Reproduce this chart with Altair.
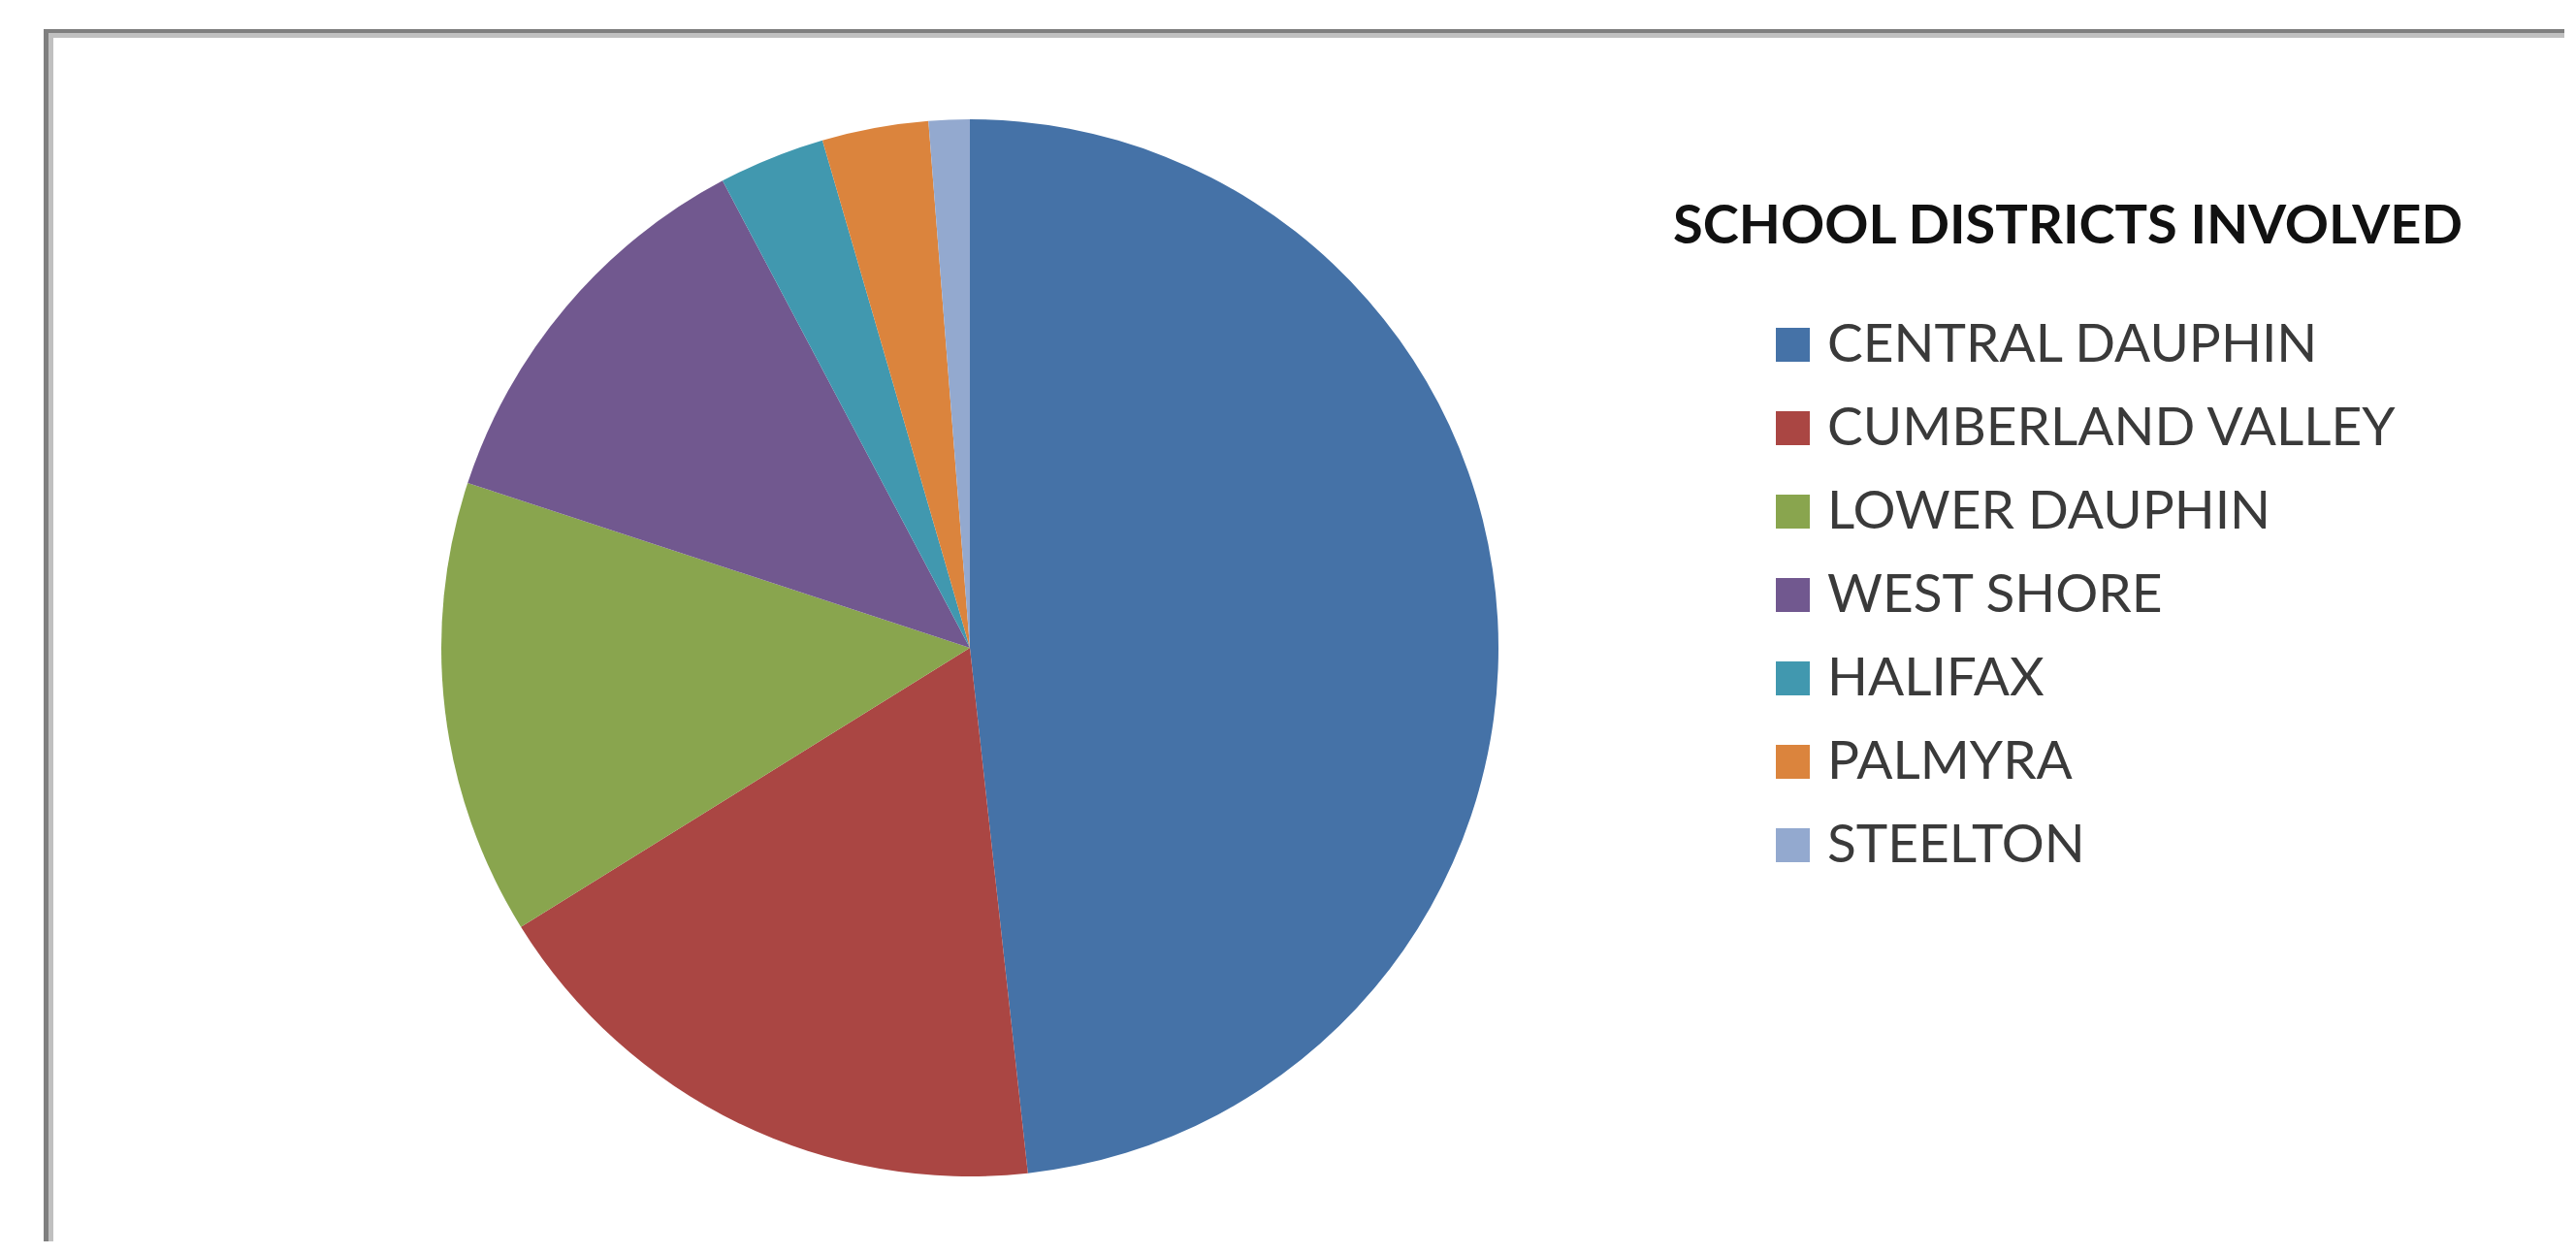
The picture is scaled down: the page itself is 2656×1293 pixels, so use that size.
import altair as alt
import pandas as pd

districts = ["CENTRAL DAUPHIN", "CUMBERLAND VALLEY", "LOWER DAUPHIN", "WEST SHORE",
             "HALIFAX", "PALMYRA", "STEELTON"]
shares = [48.25, 17.9, 13.9, 12.2, 3.25, 3.25, 1.25]
colors = ["#4572A7", "#AA4643", "#89A54E", "#71588F", "#4198AF", "#DB843D", "#93A9CF"]
legend_title = "SCHOOL DISTRICTS INVOLVED"

df = pd.DataFrame({"district": districts, "share": shares, "idx": list(range(len(districts)))})

FONT = "Lato, sans-serif"

pie = alt.Chart(df).mark_arc(radius=545, x=992, y=660).encode(
    theta=alt.Theta("share:Q", stack=True),
    order=alt.Order("idx:Q"),
    color=alt.Color(
        "district:N",
        sort=districts,
        scale=alt.Scale(domain=districts, range=colors),
        legend=alt.Legend(
            title=None,
            orient="none",
            legendX=1813,
            legendY=320,
            padding=0,
            symbolType="square",
            symbolSize=1225,
            symbolStrokeWidth=0,
            symbolOpacity=1,
            labelFont=FONT,
            labelFontSize=55,
            labelColor="#3a3a3a",
            labelOffset=8,
            labelLimit=0,
            rowPadding=30,
        ),
    ),
)

one = pd.DataFrame({"k": [0]})
title = alt.Chart(one).mark_text(
    text=legend_title, font=FONT, fontSize=56, fontWeight="bold",
    align="left", baseline="middle", color="#111111"
).encode(x=alt.value(1717), y=alt.value(226))

light_left = alt.Chart(one).mark_rule(color="#c0c0c0", strokeWidth=5).encode(
    x=alt.value(44.5), y=alt.value(26), y2=alt.value(1290))
light_top = alt.Chart(one).mark_rule(color="#c0c0c0", strokeWidth=5).encode(
    y=alt.value(28.5), x=alt.value(42), x2=alt.value(2660))
dark_left = alt.Chart(one).mark_rule(color="#7f7f7f", strokeWidth=5).encode(
    x=alt.value(39.5), y=alt.value(22), y2=alt.value(1290))
dark_top = alt.Chart(one).mark_rule(color="#7f7f7f", strokeWidth=4).encode(
    y=alt.value(24), x=alt.value(37), x2=alt.value(2660))

chart = alt.layer(light_left, light_top, dark_left, dark_top, pie, title).properties(
    width=2636, height=1272, padding=0, autosize=alt.AutoSizeParams(type="none"),
    background="white",
).configure_view(stroke=None)

chart.save("out.html", embed_options={"renderer": "svg", "actions": False})
